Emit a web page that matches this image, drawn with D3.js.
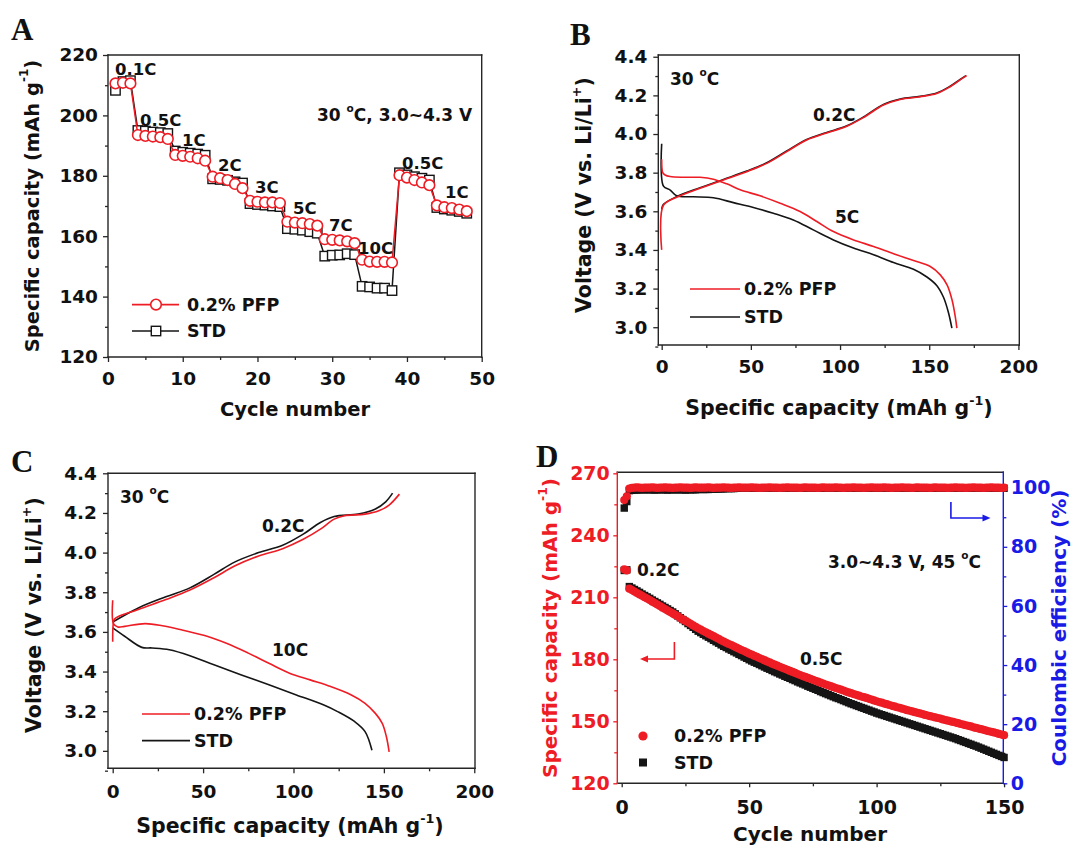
<!DOCTYPE html>
<html><head><meta charset="utf-8">
<script src="https://cdn.jsdelivr.net/npm/d3@7"></script>
<style>body{margin:0;background:#fff}svg{display:block}</style>
</head><body><svg id="chart" width="1072" height="846"></svg>
<script>
// ---------------- DATA ----------------
// Panel A: rate capability, 30 °C
const cyclesA = [1,2,3,4,5,6,7,8,9,10,11,12,13,14,15,16,17,18,19,20,21,22,23,24,25,26,27,28,29,30,31,32,33,34,35,36,37,38,39,40,41,42,43,44,45,46,47,48];
const capA_PFP = [210.6,210.8,210.6, 193.5,193.2,193.0,192.8,192.2, 186.9,186.6,186.3,185.8,185.0, 179.7,179.2,178.6,177.3,175.9, 171.7,171.4,171.2,171.2,171.0, 164.8,164.5,164.3,164.0,163.5, 159.0,158.8,158.6,158.3,157.7, 152.2,151.6,151.5,151.5,151.3, 180.2,179.4,178.6,177.8,176.9, 170.2,169.6,169.3,168.8,168.3];
const capA_STD = [208.3,211.2,211.5, 195.0,194.8,194.5,194.3,194.0, 188.2,187.8,187.5,187.2,186.8, 179.0,178.8,178.5,178.0,177.6, 170.8,170.5,170.3,170.0,169.8, 162.5,162.3,162.0,161.5,161.0, 153.4,153.7,153.8,154.2,153.9, 143.4,143.2,142.8,142.8,142.0, 181.0,180.3,179.7,179.2,178.6, 169.5,169.0,168.6,168.2,167.6];
const rateLabelsA = ["0.1C","0.5C","1C","2C","3C","5C","7C","10C","0.5C","1C"];
const ticksA_x = [0,10,20,30,40,50];
const ticksA_y = [120,140,160,180,200,220];

// Panel B: 0.2C charge / 5C discharge
const B_PFP_chg_cap = [0,0.9,8.4,21.5,34.6,47.7,58.9,70.1,81.3,92.5,103.8,113.1,124.3,133.7,144.9,154.2,161.7,167.3,171.0];
const B_PFP_chg_V   = [3.40,3.63,3.673,3.719,3.762,3.805,3.848,3.909,3.969,4.005,4.04,4.085,4.150,4.179,4.193,4.21,4.245,4.28,4.302];
const B_STD_chg_cap = [0,0.9,8.4,21.5,34.6,47.7,58.9,70.1,81.3,92.5,103.8,113.1,124.3,133.7,144.9,154.2,161.7,167.3,170.6];
const B_STD_chg_V   = [3.61,3.635,3.676,3.722,3.765,3.808,3.851,3.912,3.972,4.008,4.043,4.088,4.153,4.181,4.195,4.212,4.247,4.282,4.302];
const B_PFP_dis_cap = [0,0.6,1.9,4.7,12.2,21.5,29,36.5,44,55.2,66.4,77.6,87,96.3,107.6,118.8,130,141.2,150.6,156.2,160,162.8,164.6,165.5];
const B_PFP_dis_V   = [3.87,3.80,3.788,3.78,3.776,3.776,3.766,3.742,3.711,3.68,3.642,3.599,3.547,3.495,3.452,3.418,3.38,3.345,3.314,3.271,3.219,3.141,3.055,2.995];
const B_STD_dis_cap = [0,1.0,4.8,8.4,17.7,29,40.2,51.4,62.6,73.8,85,96.3,107.5,118.8,130,141.2,148.7,154.3,158,160.8,162.7];
const B_STD_dis_V   = [3.95,3.73,3.71,3.68,3.675,3.67,3.645,3.62,3.59,3.555,3.504,3.452,3.41,3.375,3.335,3.30,3.26,3.215,3.155,3.075,2.995];

// Panel C: 0.2C charge / 10C discharge
const C_PFP_chg_cap = [0,0.3,1,14.2,29.4,42.7,56,67.4,80.7,94,105.4,114.9,122.5,128.2,139.6,147.2,152.9,158.6];
const C_PFP_chg_V   = [3.55,3.64,3.665,3.713,3.763,3.811,3.873,3.932,3.983,4.020,4.067,4.118,4.169,4.186,4.194,4.211,4.24,4.295];
const C_STD_chg_cap = [0,14.2,29.4,42.7,56,67.4,80.7,94,105.4,114.9,122.5,135.8,145.3,151,154.8];
const C_STD_chg_V   = [3.65,3.721,3.777,3.822,3.89,3.952,4.0,4.037,4.093,4.152,4.182,4.194,4.22,4.256,4.3];
const C_PFP_dis_cap = [0,0.5,2.8,6.6,18,27.5,38.9,52.2,63.6,75,86.4,97.8,109.2,120.6,132,139.6,145.3,149.1,151.4,152.9];
const C_PFP_dis_V   = [3.76,3.64,3.625,3.628,3.642,3.631,3.608,3.578,3.54,3.493,3.442,3.392,3.358,3.324,3.282,3.24,3.189,3.139,3.071,2.995];
const C_STD_dis_cap = [0,6.6,16.1,21.8,31.3,42.7,56,71.2,86.4,101.6,116.8,124.4,133.9,139.6,143.4];
const C_STD_dis_V   = [3.62,3.578,3.522,3.519,3.51,3.48,3.434,3.383,3.333,3.282,3.231,3.198,3.147,3.097,3.003];
const ticksV = [3.0,3.2,3.4,3.6,3.8,4.0,4.2,4.4];
const ticksCap = [0,50,100,150,200];

// Panel D: cycling at 45 °C
const capD_PFP = [223.5,223.0,
214.2,213.5,212.8,212.1,211.4,210.7,210.0,209.4,
208.7,207.9,207.2,206.5,205.8,205.0,204.3,203.6,202.9,202.2,
201.5,200.8,200.0,199.3,198.6,197.9,197.2,196.4,195.7,195.0,
194.4,193.7,193.1,192.4,191.8,191.2,190.5,189.9,189.2,188.6,
188.0,187.4,186.9,186.3,185.7,185.1,184.5,184.0,183.4,182.8,
182.3,181.7,181.2,180.6,180.1,179.6,179.0,178.5,177.9,177.4,
176.9,176.4,175.9,175.4,174.9,174.4,173.9,173.4,172.9,172.4,
171.9,171.5,171.0,170.6,170.1,169.6,169.2,168.7,168.3,167.8,
167.4,167.0,166.5,166.1,165.7,165.3,164.9,164.4,164.0,163.6,
163.2,162.8,162.4,162.0,161.7,161.3,160.9,160.5,160.1,159.7,
159.3,159.0,158.6,158.3,157.9,157.5,157.2,156.8,156.5,156.1,
155.8,155.4,155.1,154.8,154.4,154.1,153.8,153.5,153.1,152.8,
152.5,152.2,151.9,151.6,151.3,150.9,150.6,150.3,150.0,149.7,
149.4,149.1,148.7,148.4,148.1,147.8,147.5,147.1,146.8,146.5,
146.2,145.9,145.5,145.2,144.9,144.6,144.3,143.9,143.6,143.3];
const capD_STD = [223.0,223.3,
215.2,214.5,213.8,213.1,212.4,211.6,210.9,210.2,
209.5,208.7,208.0,207.3,206.6,205.8,205.1,204.4,203.6,202.9,
202.0,201.0,200.1,199.2,198.3,197.3,196.4,195.5,194.5,193.6,
192.9,192.1,191.4,190.7,190.0,189.2,188.5,187.8,187.0,186.3,
185.7,185.0,184.4,183.7,183.1,182.4,181.8,181.1,180.5,179.8,
179.2,178.6,178.1,177.5,176.9,176.3,175.7,175.2,174.6,174.0,
173.5,172.9,172.4,171.8,171.3,170.8,170.2,169.7,169.1,168.6,
168.1,167.6,167.0,166.5,166.0,165.5,165.0,164.4,163.9,163.4,
162.9,162.4,161.9,161.4,161.0,160.5,160.0,159.5,159.0,158.5,
158.1,157.6,157.2,156.7,156.3,155.8,155.4,154.9,154.5,154.0,
153.6,153.2,152.8,152.4,152.0,151.6,151.2,150.8,150.4,150.0,
149.6,149.2,148.8,148.4,148.0,147.6,147.2,146.8,146.4,146.0,
145.6,145.2,144.8,144.4,144.0,143.6,143.2,142.8,142.4,142.0,
141.6,141.1,140.7,140.2,139.8,139.3,138.9,138.4,138.0,137.5,
137.0,136.5,136.0,135.5,135.0,134.5,134.0,133.5,133.0,132.5];
const ceD_PFP = [95.8,97.1,
99.7,99.9,100.0,100.1,100.0,99.9,100.0,100.0,
100.0,100.1,100.0,99.9,100.0,100.0,100.1,100.0,100.0,99.9,
100.0,100.0,100.1,100.0,100.0,100.0,99.9,100.0,100.1,100.0,
100.0,100.0,100.0,100.1,100.0,99.9,100.0,100.0,100.0,100.1,
100.0,100.0,99.9,100.0,100.0,100.1,100.0,100.0,100.0,100.0,
100.1,100.0,100.0,99.9,100.0,100.0,100.0,100.1,100.0,100.0,
100.0,99.9,100.0,100.0,100.1,100.0,100.0,100.0,100.0,99.9,
100.0,100.1,100.0,100.0,100.0,100.0,99.9,100.0,100.1,100.0,
100.0,100.0,100.0,100.1,100.0,100.0,99.9,100.0,100.0,100.0,
100.1,100.0,100.0,100.0,99.9,100.0,100.0,100.1,100.0,100.0,
100.0,100.0,100.1,100.0,100.0,99.9,100.0,100.0,100.0,100.1,
100.0,100.0,100.0,99.9,100.0,100.1,100.0,100.0,100.0,100.0,
99.9,100.0,100.1,100.0,100.0,100.0,100.0,99.9,100.0,100.0,
100.1,100.0,100.0,100.0,99.9,100.0,100.0,100.1,100.0,100.0,
100.0,99.9,100.0,100.0,100.1,100.0,100.0,100.0,99.9,100.0];
const ceD_STD = [93.1,95.3,
99.0,99.1,99.2,99.2,99.3,99.3,99.3,99.3,
99.3,99.3,99.2,99.3,99.3,99.3,99.3,99.2,99.3,99.3,
99.3,99.3,99.3,99.3,99.2,99.3,99.3,99.3,99.3,99.4,
99.4,99.4,99.4,99.4,99.5,99.5,99.5,99.6,99.6,99.6,
99.7,99.7,99.7,99.7,99.8,99.8,99.8,99.8,99.8,99.8,
99.8,99.8,99.8,99.8,99.8,99.8,99.8,99.8,99.8,99.8,
99.8,99.8,99.8,99.8,99.8,99.8,99.8,99.8,99.8,99.8,
99.8,99.8,99.8,99.8,99.8,99.8,99.8,99.8,99.8,99.8,
99.8,99.8,99.8,99.8,99.8,99.8,99.8,99.8,99.8,99.8,
99.8,99.8,99.8,99.8,99.8,99.8,99.8,99.8,99.8,99.8,
99.8,99.8,99.8,99.8,99.8,99.8,99.8,99.8,99.8,99.8,
99.8,99.8,99.8,99.8,99.8,99.8,99.8,99.8,99.8,99.8,
99.8,99.8,99.8,99.8,99.8,99.8,99.8,99.8,99.8,99.8,
99.8,99.8,99.8,99.8,99.8,99.8,99.8,99.8,99.8,99.8,
99.8,99.8,99.8,99.8,99.8,99.8,99.8,99.8,99.8,99.8];
const cyclesD = d3.range(1, capD_PFP.length + 1);
const ticksD_x = [0,50,100,150];
const ticksD_yL = [120,150,180,210,240,270];
const ticksD_yR = [0,20,40,60,80,100];

// ---------------- DRAWING ----------------
const FONT = "'DejaVu Sans', Arial, sans-serif";
const SERIF = "'Liberation Serif', 'Times New Roman', serif";
const RED = "#ee1c24", BLK = "#151515", BLUE = "#1a1ae6", AX = "#262626";
const svg = d3.select("#chart");
svg.append("rect").attr("width",1072).attr("height",846).attr("fill","#fff");

function styleAxis(a, color, tcolor, fs) {
  a.select(".domain").remove();
  a.selectAll("line").attr("stroke", color).attr("stroke-width", 1.3);
  a.selectAll("text").attr("font-size", fs).attr("fill", tcolor)
    .attr("font-family", FONT).attr("font-weight", "bold");
}
function axisX(g, x, y0, ticks, minor, fmt, o = {}) {
  const c = o.color || AX, fs = o.fs || 18.5;
  styleAxis(g.append("g").attr("transform", `translate(0,${y0})`)
    .call(d3.axisBottom(x).tickValues(ticks).tickFormat(fmt).tickSize(o.ts || 5).tickSizeOuter(0).tickPadding(o.pad || 10)), c, o.tcolor || "#111", fs);
  styleAxis(g.append("g").attr("transform", `translate(0,${y0})`)
    .call(d3.axisBottom(x).tickValues(minor).tickFormat("").tickSize(3).tickSizeOuter(0)), c, c, fs);
}
function axisY(g, y, x0, ticks, minor, fmt, o = {}) {
  const c = o.color || AX, fs = o.fs || 18.5;
  const gen = o.right ? d3.axisRight : d3.axisLeft;
  styleAxis(g.append("g").attr("transform", `translate(${x0},0)`)
    .call(gen(y).tickValues(ticks).tickFormat(fmt).tickSize(o.ts || 5).tickSizeOuter(0).tickPadding(o.pad || 5)), c, o.tcolor || "#111", fs);
  styleAxis(g.append("g").attr("transform", `translate(${x0},0)`)
    .call(gen(y).tickValues(minor).tickFormat("").tickSize(3).tickSizeOuter(0)), c, c, fs);
}
function frame(g, x, y, cols) {
  const [x0, x1] = x.range(), [y0, y1] = y.range();
  const c = cols || {};
  const seg = (a, b, cc, d, col) => g.append("line").attr("x1", a).attr("y1", b).attr("x2", cc).attr("y2", d)
    .attr("stroke", col).attr("stroke-width", 1.4).attr("stroke-linecap", "square");
  seg(x0, y1, x1, y1, c.top || AX);
  seg(x0, y0, x1, y0, c.bottom || AX);
  seg(x0, y0, x0, y1, c.left || AX);
  seg(x1, y0, x1, y1, c.right || AX);
}
function rich(g, x, y, parts, o = {}) {
  const fs = o.fs || 17;
  const t = g.append("text").attr("x", x).attr("y", y).attr("font-size", fs)
    .attr("fill", o.fill || "#111").attr("font-family", o.family || FONT).attr("font-weight", "bold")
    .attr("text-anchor", o.anchor || "start").attr("dominant-baseline", "central");
  if (o.rotate) t.attr("transform", `rotate(${o.rotate},${x},${y})`);
  let shift = 0;
  parts.forEach(p => {
    const s = typeof p === "string" ? { t: p } : p;
    const ts = t.append("tspan").text(s.t);
    if (s.sup) { ts.attr("font-size", fs * 0.62).attr("dy", -fs * 0.4); shift = fs * 0.4; }
    else if (shift) { ts.attr("dy", shift); shift = 0; }
  });
  return t;
}
const capTitle = ["Specific capacity (mAh g", { t: "-1", sup: true }, ")"];
const voltTitle = ["Voltage (V vs. Li/Li", { t: "+", sup: true }, ")"];
const f1 = d3.format(".1f");
const lineGen = (x, y) => d3.line().x(d => x(d[0])).y(d => y(d[1])).curve(d3.curveCatmullRom.alpha(0.5));
const zip = (a, b) => a.map((v, i) => [v, b[i]]);

// ===== Panel A =====
(function () {
  const g = svg.append("g");
  const x = d3.scaleLinear().domain([0, 50]).range([108, 481.7]);
  const y = d3.scaleLinear().domain([120, 220]).range([357, 55]);
  frame(g, x, y);
  axisX(g, x, 357, ticksA_x, [5, 15, 25, 35, 45], d3.format("d"), { pad: 10 });
  axisY(g, y, 108, ticksA_y, [130, 150, 170, 190, 210], d3.format("d"), { pad: 5 });
  const ln = d3.line().x((d, i) => x(cyclesA[i])).y(d => y(d));
  g.append("path").attr("d", ln(capA_STD)).attr("fill", "none").attr("stroke", BLK).attr("stroke-width", 1.5);
  g.selectAll(".sq").data(capA_STD).enter().append("rect")
    .attr("x", (d, i) => x(cyclesA[i]) - 4.7).attr("y", d => y(d) - 4.7).attr("width", 9.4).attr("height", 9.4)
    .attr("fill", "#fff").attr("stroke", BLK).attr("stroke-width", 1.4);
  g.append("path").attr("d", ln(capA_PFP)).attr("fill", "none").attr("stroke", RED).attr("stroke-width", 1.5);
  g.selectAll(".ci").data(capA_PFP).enter().append("circle")
    .attr("cx", (d, i) => x(cyclesA[i])).attr("cy", d => y(d)).attr("r", 5.3)
    .attr("fill", "#fff").attr("stroke", RED).attr("stroke-width", 1.6);
  // rate labels
  const lp = [[115, 69], [140, 120], [182, 140], [218, 165], [255, 187], [293, 208], [329, 225], [358, 248], [402, 163], [445, 192]];
  rateLabelsA.forEach((t, i) => rich(g, lp[i][0], lp[i][1], [t], { fs: 16.5 }));
  rich(g, 317, 115, ["30 ", { t: "o", sup: true }, "C, 3.0~4.3 V"], { fs: 17 });
  // legend
  g.append("line").attr("x1", 132).attr("x2", 179).attr("y1", 304.6).attr("y2", 304.6).attr("stroke", RED).attr("stroke-width", 1.6);
  g.append("circle").attr("cx", 156).attr("cy", 304.6).attr("r", 5.3).attr("fill", "#fff").attr("stroke", RED).attr("stroke-width", 1.6);
  rich(g, 187, 304.6, ["0.2% PFP"], { fs: 17.5 });
  g.append("line").attr("x1", 132).attr("x2", 179).attr("y1", 331).attr("y2", 331).attr("stroke", BLK).attr("stroke-width", 1.5);
  g.append("rect").attr("x", 151.3).attr("y", 326.3).attr("width", 9.4).attr("height", 9.4).attr("fill", "#fff").attr("stroke", BLK).attr("stroke-width", 1.4);
  rich(g, 187, 331, ["STD"], { fs: 17.5 });
  rich(g, 295, 409, ["Cycle number"], { fs: 19.5, anchor: "middle" });
  rich(g, 32, 206, capTitle, { fs: 19.5, anchor: "middle", rotate: -90 });
  g.append("text").attr("x", 11).attr("y", 40).attr("font-family", SERIF).attr("font-weight", "bold").attr("font-size", 31).attr("fill", "#111").text("A");
})();

// ===== Voltage panels (B, C) =====
function voltPanel(o) {
  const g = svg.append("g");
  const x = d3.scaleLinear().domain(o.xd).range(o.xr);
  const y = d3.scaleLinear().domain(o.yd).range(o.yr);
  frame(g, x, y);
  axisX(g, x, o.yr[0], ticksCap, [25, 75, 125, 175], d3.format("d"), { pad: o.xpad });
  axisY(g, y, o.xr[0], ticksV, [2.9, 3.1, 3.3, 3.5, 3.7, 3.9, 4.1, 4.3], f1, { pad: 6 });
  const L = lineGen(x, y);
  o.curves.forEach(c => g.append("path").attr("d", L(zip(c[0], c[1]))).attr("fill", "none")
    .attr("stroke", c[2]).attr("stroke-width", 1.6).attr("stroke-linejoin", "round"));
  const lg = o.legend;
  g.append("line").attr("x1", lg[0]).attr("x2", lg[1]).attr("y1", lg[2]).attr("y2", lg[2]).attr("stroke", RED).attr("stroke-width", 1.7);
  rich(g, lg[1] + 4, lg[2], ["0.2% PFP"], { fs: 17.5 });
  g.append("line").attr("x1", lg[0]).attr("x2", lg[1]).attr("y1", lg[3]).attr("y2", lg[3]).attr("stroke", BLK).attr("stroke-width", 1.7);
  rich(g, lg[1] + 4, lg[3], ["STD"], { fs: 17.5 });
  o.notes.forEach(n => rich(g, n[0], n[1], n[2], { fs: 17 }));
  rich(g, o.xt[0], o.xt[1], capTitle, { fs: 20.5, anchor: "middle" });
  rich(g, o.yt[0], o.yt[1], voltTitle, { fs: 20.5, anchor: "middle", rotate: -90 });
  g.append("text").attr("x", o.lab[0]).attr("y", o.lab[1]).attr("font-family", SERIF).attr("font-weight", "bold")
    .attr("font-size", 31).attr("fill", "#111").text(o.lab[2]);
}
voltPanel({
  xd: [-1.9, 200.5], xr: [658.3, 1019.3], yd: [2.908, 4.409], yr: [345, 55], xpad: 10,
  curves: [[B_STD_chg_cap, B_STD_chg_V, BLK], [B_STD_dis_cap, B_STD_dis_V, BLK],
           [B_PFP_chg_cap, B_PFP_chg_V, RED], [B_PFP_dis_cap, B_PFP_dis_V, RED]],
  legend: [690, 740, 289, 317],
  notes: [[670, 79, ["30 ", { t: "o", sup: true }, "C"]], [813, 115, ["0.2C"]], [835, 217, ["5C"]]],
  xt: [839, 408], yt: [584, 195], lab: [570, 45, "B"]
});
voltPanel({
  xd: [-2.6, 200.4], xr: [108, 475], yd: [2.912, 4.4], yr: [768.3, 473.3], xpad: 12,
  curves: [[C_STD_chg_cap, C_STD_chg_V, BLK], [C_STD_dis_cap, C_STD_dis_V, BLK],
           [C_PFP_chg_cap, C_PFP_chg_V, RED], [C_PFP_dis_cap, C_PFP_dis_V, RED]],
  legend: [142, 190, 714, 740.7],
  notes: [[120, 497, ["30 ", { t: "o", sup: true }, "C"]], [262, 526, ["0.2C"]], [272, 650, ["10C"]]],
  xt: [290, 826], yt: [34, 615], lab: [11, 472, "C"]
});

// ===== Panel D =====
(function () {
  const g = svg.append("g");
  const x = d3.scaleLinear().domain([-1.73, 149.7]).range([617.3, 1003.3]);
  const yL = d3.scaleLinear().domain([120, 270.5]).range([783.3, 472.3]);
  const yR = d3.scaleLinear().domain([0, 105.2]).range([783.3, 472.3]);
  frame(g, x, yL, { left: RED, right: BLUE, top: AX, bottom: AX });
  axisX(g, x, 783.3, ticksD_x, [25, 75, 125], d3.format("d"), { ts: 4, pad: 13, fs: 19 });
  axisY(g, yL, 617.3, ticksD_yL, [135, 165, 195, 225, 255], d3.format("d"), { ts: 4, pad: 3.5, fs: 19, color: RED, tcolor: RED });
  axisY(g, yR, 1003.3, ticksD_yR, [10, 30, 50, 70, 90], d3.format("d"), { ts: 4, pad: 3.5, fs: 19, color: BLUE, tcolor: BLUE, right: true });
  const sq = 7.4, rr = 4.1;
  const drawSq = (vals, sc) => g.append("g").selectAll("rect").data(vals).enter().append("rect")
    .attr("x", (d, i) => x(cyclesD[i]) - sq / 2).attr("y", d => sc(d) - sq / 2).attr("width", sq).attr("height", sq).attr("fill", BLK);
  const drawCi = (vals, sc) => g.append("g").selectAll("circle").data(vals).enter().append("circle")
    .attr("cx", (d, i) => x(cyclesD[i])).attr("cy", d => sc(d)).attr("r", rr).attr("fill", RED);
  drawSq(capD_STD, yL);
  drawCi(capD_PFP, yL);
  drawSq(ceD_STD, yR);
  drawCi(ceD_PFP, yR);
  // arrows
  g.append("path").attr("d", `M674.4,642 V659 H646`).attr("fill", "none").attr("stroke", RED).attr("stroke-width", 1.6);
  g.append("path").attr("d", `M640,659 l8,-3.5 v7 z`).attr("fill", RED);
  g.append("path").attr("d", `M950.9,502 V518 H984`).attr("fill", "none").attr("stroke", BLUE).attr("stroke-width", 1.6);
  g.append("path").attr("d", `M990.5,518 l-8,-3.5 v7 z`).attr("fill", BLUE);
  // notes
  rich(g, 637, 570, ["0.2C"], { fs: 17 });
  rich(g, 800, 659, ["0.5C"], { fs: 17 });
  rich(g, 828, 562, ["3.0~4.3 V, 45 ", { t: "o", sup: true }, "C"], { fs: 17 });
  // legend
  g.append("circle").attr("cx", 643).attr("cy", 736).attr("r", 4.6).attr("fill", RED);
  rich(g, 674, 736, ["0.2% PFP"], { fs: 17.5 });
  g.append("rect").attr("x", 639).attr("y", 758.5).attr("width", 8).attr("height", 8).attr("fill", BLK);
  rich(g, 674, 762.5, ["STD"], { fs: 17.5 });
  rich(g, 810, 834, ["Cycle number"], { fs: 20, anchor: "middle" });
  rich(g, 550, 628, capTitle, { fs: 20, anchor: "middle", rotate: -90, fill: RED });
  rich(g, 1059, 628, ["Coulombic efficiency (%)"], { fs: 20, anchor: "middle", rotate: -90, fill: BLUE });
  g.append("text").attr("x", 536).attr("y", 467).attr("font-family", SERIF).attr("font-weight", "bold")
    .attr("font-size", 31).attr("fill", "#111").text("D");
})();
</script></body></html>
